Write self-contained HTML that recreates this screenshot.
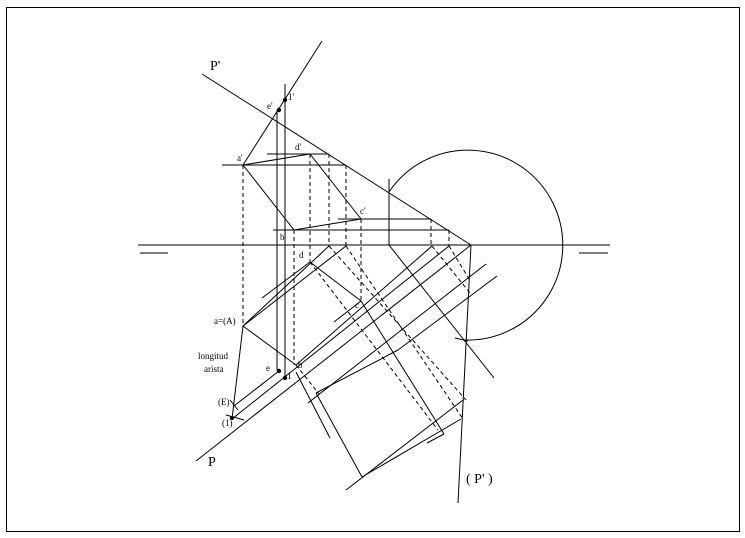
<!DOCTYPE html>
<html><head><meta charset="utf-8"><style>
html,body{margin:0;padding:0;background:#fff}
svg{display:block}
text{font-family:"Liberation Serif",serif;fill:#000}
</style></head><body>
<svg width="745" height="538" viewBox="0 0 745 538" xmlns="http://www.w3.org/2000/svg">
<rect x="6.5" y="7.5" width="733" height="524" fill="none" stroke="#000" stroke-width="1"/>
<g stroke="#000" stroke-width="1" fill="none">
<!-- ground line -->
<line x1="138" y1="245" x2="610" y2="245"/>
<line x1="140" y1="253" x2="168" y2="253"/>
<line x1="579" y1="253" x2="608" y2="253"/>
<!-- traces -->
<line x1="202" y1="74" x2="471" y2="245"/>
<line x1="196" y1="461" x2="471" y2="245"/>
<line x1="471" y1="245" x2="458" y2="503"/>
<!-- circle arc -->
<path d="M389,192 A95,95 0 1,1 463,340"/>
<line x1="389" y1="179" x2="389" y2="245"/>
<line x1="389" y1="245" x2="494" y2="378"/>
<line x1="455" y1="338" x2="468" y2="341"/>
<!-- elevation -->
<line x1="322" y1="41" x2="243" y2="165"/>
<line x1="277" y1="110" x2="277" y2="370"/>
<line x1="285" y1="84" x2="285" y2="377"/>
<line x1="222" y1="165" x2="346" y2="165"/>
<line x1="267" y1="154" x2="329" y2="154"/>
<line x1="243" y1="165" x2="310" y2="154"/>
<line x1="310" y1="154" x2="361" y2="219"/>
<line x1="338" y1="219" x2="431" y2="219"/>
<line x1="273" y1="230" x2="449" y2="230"/>
<line x1="243" y1="165" x2="294" y2="230"/>
<line x1="294" y1="230" x2="361" y2="219"/>
<!-- plan -->
<line x1="243" y1="326" x2="329" y2="246"/>
<line x1="243" y1="326" x2="346" y2="246"/>
<line x1="262" y1="298" x2="310" y2="262"/>
<line x1="310" y1="262" x2="361" y2="301"/>
<line x1="361" y1="301" x2="444" y2="434"/>
<line x1="243" y1="326" x2="296" y2="365"/>
<line x1="296" y1="372" x2="330" y2="438"/>
<line x1="243" y1="326" x2="232" y2="419"/>
<line x1="296" y1="365" x2="432" y2="246"/>
<line x1="334" y1="322" x2="361" y2="301"/>
<line x1="232" y1="419" x2="449" y2="246"/>
<line x1="234" y1="406" x2="279" y2="371"/>
<line x1="308" y1="403" x2="486" y2="264"/>
<line x1="316" y1="393" x2="398" y2="350"/>
<line x1="398" y1="350" x2="497" y2="276"/>
<line x1="316" y1="393" x2="362" y2="477"/>
<line x1="346" y1="490" x2="463" y2="400"/>
<line x1="362" y1="477" x2="461" y2="419"/>
<line x1="427" y1="443" x2="444" y2="434"/>
<line x1="226" y1="415" x2="244" y2="420"/>
<line x1="230" y1="400" x2="238" y2="410"/>
</g>
<g stroke="#000" stroke-width="1" fill="none" stroke-dasharray="4,3">
<line x1="243" y1="165" x2="243" y2="326"/>
<line x1="310" y1="154" x2="310" y2="262"/>
<line x1="329" y1="154" x2="329" y2="246"/>
<line x1="346" y1="165" x2="346" y2="246"/>
<line x1="294" y1="230" x2="294" y2="365"/>
<line x1="361" y1="219" x2="361" y2="301"/>
<line x1="431" y1="219" x2="431" y2="246"/>
<line x1="449" y1="230" x2="449" y2="246"/>
<line x1="329" y1="246" x2="466" y2="400"/>
<line x1="346" y1="246" x2="463" y2="419"/>
<line x1="310" y1="262" x2="438" y2="430"/>
<line x1="432" y1="246" x2="470" y2="293"/>
<line x1="449" y1="246" x2="471" y2="282"/>
<line x1="296" y1="365" x2="319" y2="394"/>
</g>
<g fill="#000">
<circle cx="279" cy="110" r="2.2"/><circle cx="285" cy="100" r="2.2"/>
<circle cx="279" cy="371" r="2.2"/><circle cx="285" cy="378" r="2.2"/>
<circle cx="232" cy="418" r="2"/>
</g>
<text x="210" y="70" font-size="14">P'</text>
<text x="267" y="109" font-size="9">e'</text>
<text x="288" y="100" font-size="9">1'</text>
<text x="237" y="161" font-size="9">a'</text>
<text x="295" y="150" font-size="9">d'</text>
<text x="360" y="214" font-size="9">c'</text>
<text x="280" y="240" font-size="9">b'</text>
<text x="299" y="258" font-size="9">d</text>
<text x="355" y="308" font-size="9">c</text>
<text x="298" y="368" font-size="9">b</text>
<text x="266" y="371" font-size="9">e</text>
<text x="287" y="379" font-size="9">1</text>
<text x="214" y="324" font-size="9">a=(A)</text>
<text x="198" y="359" font-size="9">longitud</text>
<text x="204" y="372" font-size="9">arista</text>
<text x="218" y="405" font-size="9">(E)</text>
<text x="222" y="426" font-size="9">(1)</text>
<text x="208" y="466" font-size="14">P</text>
<text x="466" y="483" font-size="14">( P' )</text>
</svg>
</body></html>
